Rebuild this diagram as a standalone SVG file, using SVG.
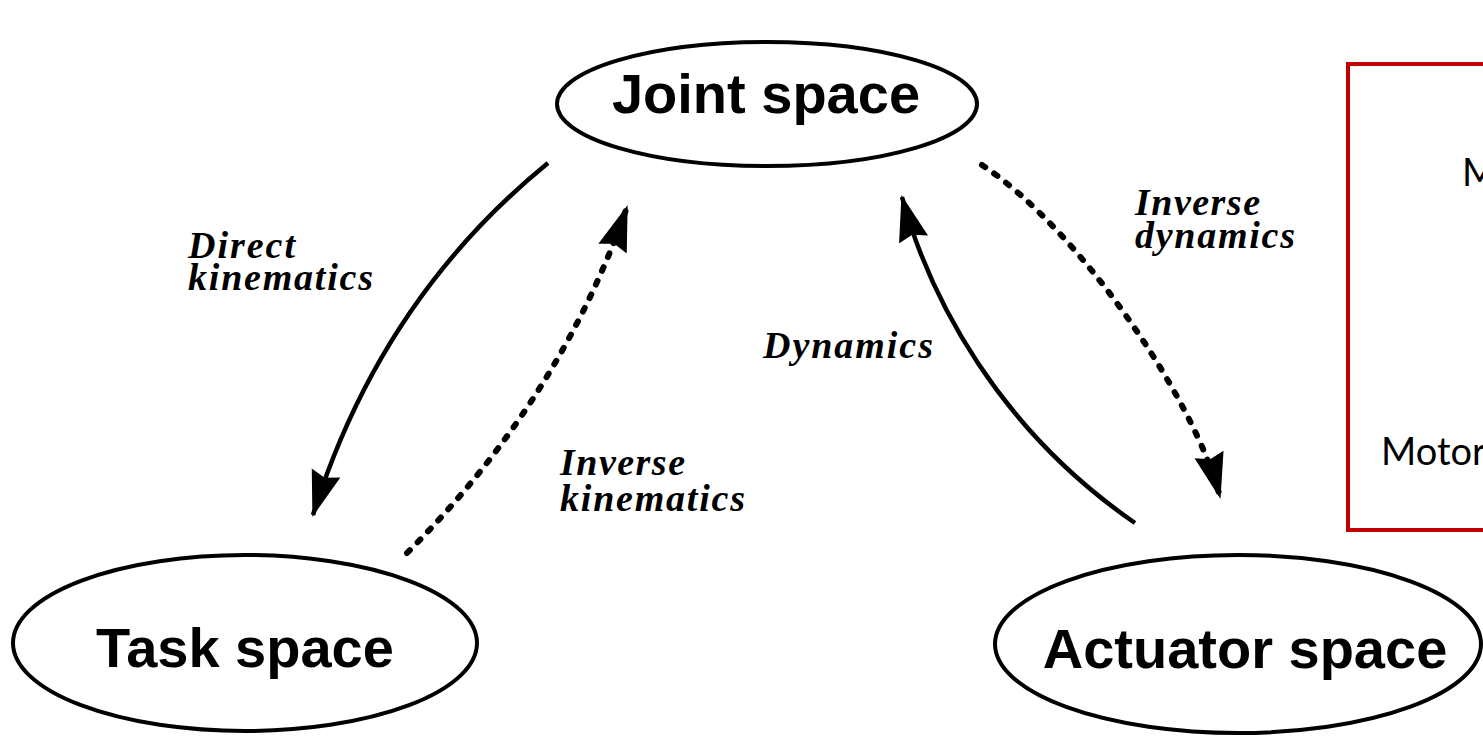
<svg xmlns="http://www.w3.org/2000/svg" width="1483" height="736" viewBox="0 0 1483 736">
<style>
.node{fill:#fff;stroke:#000;stroke-width:4}
.nlabel{font-family:"Liberation Sans",Arial,sans-serif;font-weight:bold;font-size:56px;fill:#000}
.elabel{font-family:"Liberation Serif","Times New Roman",serif;font-weight:bold;font-style:italic;font-size:38px;fill:#000}
.solid{fill:none;stroke:#000;stroke-width:4.5}
.dotted{fill:none;stroke:#000;stroke-width:6;stroke-dasharray:4 11;stroke-linecap:round}
.note{font-family:Lato,"Open Sans",sans-serif;font-size:38px;fill:#000}
</style>
<defs>
<marker id="ah" markerUnits="userSpaceOnUse" markerWidth="48" markerHeight="32" refX="44" refY="15" orient="auto">
<path d="M0,0 L46,15 L0,30 L5,15 Z" fill="#000"/>
</marker>
</defs>
<rect width="1483" height="736" fill="#fff"/>
<g id="connectors">
<path id="direct-kinematics" class="solid" d="M548,163 Q380,300 313,515" marker-end="url(#ah)"/>
<path id="inverse-kinematics" class="dotted" d="M407,553 Q560,400 627,207" marker-end="url(#ah)"/>
<path id="dynamics" class="solid" d="M1135,523 C1000,430 930,300 902,197" marker-end="url(#ah)"/>
<path id="inverse-dynamics" class="dotted" d="M982,165 C1080,230 1195,400 1220,497" marker-end="url(#ah)"/>
<text class="elabel" x="188" y="258" textLength="107">Direct</text>
<text class="elabel" x="188" y="290" textLength="185">kinematics</text>
<text class="elabel" x="560" y="475" textLength="125">Inverse</text>
<text class="elabel" x="560" y="511" textLength="185">kinematics</text>
<text class="elabel" x="763" y="358" textLength="170">Dynamics</text>
<text class="elabel" x="1135" y="215" textLength="125">Inverse</text>
<text class="elabel" x="1135" y="248" textLength="160">dynamics</text>
</g>
<g id="joint-space">
<ellipse class="node" cx="767" cy="104" rx="210" ry="62"/>
<text class="nlabel" x="766" y="113" text-anchor="middle">Joint space</text>
</g>
<g id="task-space">
<ellipse class="node" cx="245" cy="643" rx="232" ry="88"/>
<text class="nlabel" x="245" y="667" text-anchor="middle">Task space</text>
</g>
<g id="actuator-space">
<ellipse class="node" cx="1238" cy="644" rx="243" ry="89"/>
<text class="nlabel" x="1245" y="668" text-anchor="middle">Actuator space</text>
</g>
<g id="note-box">
<rect x="1348" y="64" width="200" height="466" fill="#fff" stroke="#c00000" stroke-width="4"/>
<text class="note" x="1462" y="186">M</text>
<text class="note" x="1381" y="465">Motor</text>
</g>
</svg>
